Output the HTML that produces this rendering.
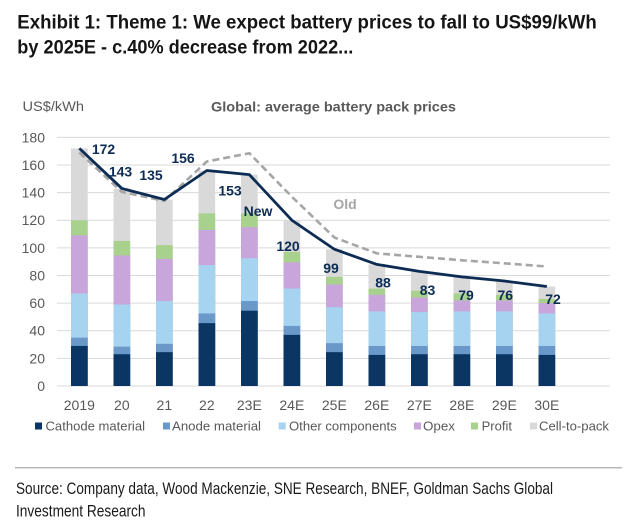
<!DOCTYPE html>
<html>
<head>
<meta charset="utf-8">
<style>
html,body{margin:0;padding:0;background:#fff;}
svg{display:block;}
text{font-family:"Liberation Sans",Arial,sans-serif;}
.narrow{font-family:"Liberation Sans Narrow","Liberation Sans",Arial,sans-serif;}
.ax{font-size:14px;fill:#595959;}
.val{font-size:14px;font-weight:bold;fill:#0d2c54;text-anchor:middle;}
.lg{font-size:13px;fill:#595959;}
</style>
</head>
<body>
<svg width="640" height="528" viewBox="0 0 640 528" xmlns="http://www.w3.org/2000/svg">
<rect x="0" y="0" width="640" height="528" fill="#fff"/>

<!-- Title -->
<text class="narrow" x="17.3" y="28.5" font-size="19" font-weight="bold" fill="#151515" textLength="579.4" lengthAdjust="spacingAndGlyphs">Exhibit 1: Theme 1: We expect battery prices to fall to US$99/kWh</text>
<text class="narrow" x="17.3" y="53.3" font-size="19" font-weight="bold" fill="#151515" textLength="336" lengthAdjust="spacingAndGlyphs">by 2025E - c.40% decrease from 2022...</text>

<text x="22.5" y="111" font-size="14" fill="#595959" textLength="61.5" lengthAdjust="spacingAndGlyphs">US$/kWh</text>
<text x="211" y="111.5" font-size="13.5" font-weight="bold" fill="#595959" textLength="245" lengthAdjust="spacingAndGlyphs">Global: average battery pack prices</text>

<!-- Gridlines -->
<g stroke="#d9d9d9" stroke-width="1">
<line x1="57" x2="610" y1="137.33" y2="137.33"/>
<line x1="57" x2="610" y1="164.96" y2="164.96"/>
<line x1="57" x2="610" y1="192.59" y2="192.59"/>
<line x1="57" x2="610" y1="220.22" y2="220.22"/>
<line x1="57" x2="610" y1="247.85" y2="247.85"/>
<line x1="57" x2="610" y1="275.48" y2="275.48"/>
<line x1="57" x2="610" y1="303.11" y2="303.11"/>
<line x1="57" x2="610" y1="330.74" y2="330.74"/>
<line x1="57" x2="610" y1="358.37" y2="358.37"/>
<line x1="57" x2="610" y1="386" y2="386"/>
</g>

<!-- Y axis labels -->
<g class="ax" text-anchor="end">
<text x="45" y="142.3">180</text>
<text x="45" y="170">160</text>
<text x="45" y="197.6">140</text>
<text x="45" y="225.2">120</text>
<text x="45" y="252.9">100</text>
<text x="45" y="280.5">80</text>
<text x="45" y="308.1">60</text>
<text x="45" y="335.7">40</text>
<text x="45" y="363.4">20</text>
<text x="45" y="391">0</text>
</g>

<!-- Bars: drawn back to front (cumulative tops to baseline 386) -->
<!-- Cell-to-pack -->
<g fill="#d9d9d9">
<rect x="71" y="148.38" width="16.7" height="237.62"/>
<rect x="113.5" y="188.45" width="16.7" height="197.55"/>
<rect x="156" y="199.5" width="16.7" height="186.5"/>
<rect x="198.5" y="170.49" width="16.7" height="215.51"/>
<rect x="241" y="174.63" width="16.7" height="211.37"/>
<rect x="283.5" y="220.22" width="16.7" height="165.78"/>
<rect x="326" y="249.23" width="16.7" height="136.77"/>
<rect x="368.5" y="264.43" width="16.7" height="121.57"/>
<rect x="411" y="271.34" width="16.7" height="114.66"/>
<rect x="453.5" y="276.86" width="16.7" height="109.14"/>
<rect x="496" y="281.01" width="16.7" height="104.99"/>
<rect x="538.5" y="286.53" width="16.7" height="99.47"/>
</g>
<!-- Profit -->
<g fill="#a9d18e">
<rect x="71" y="220.22" width="16.7" height="165.78"/>
<rect x="113.5" y="240.94" width="16.7" height="145.06"/>
<rect x="156" y="245.09" width="16.7" height="140.91"/>
<rect x="198.5" y="213.31" width="16.7" height="172.69"/>
<rect x="241" y="213.31" width="16.7" height="172.69"/>
<rect x="283.5" y="251.99" width="16.7" height="134.01"/>
<rect x="326" y="276.86" width="16.7" height="109.14"/>
<rect x="368.5" y="288.6" width="16.7" height="97.4"/>
<rect x="411" y="290.68" width="16.7" height="95.32"/>
<rect x="453.5" y="293.44" width="16.7" height="92.56"/>
<rect x="496" y="294.82" width="16.7" height="91.18"/>
<rect x="538.5" y="298.97" width="16.7" height="87.03"/>
</g>
<!-- Opex -->
<g fill="#c8a6dc">
<rect x="71" y="235.42" width="16.7" height="150.58"/>
<rect x="113.5" y="255.45" width="16.7" height="130.55"/>
<rect x="156" y="258.9" width="16.7" height="127.1"/>
<rect x="198.5" y="229.89" width="16.7" height="156.11"/>
<rect x="241" y="227.13" width="16.7" height="158.87"/>
<rect x="283.5" y="262.36" width="16.7" height="123.64"/>
<rect x="326" y="284.46" width="16.7" height="101.54"/>
<rect x="368.5" y="294.82" width="16.7" height="91.18"/>
<rect x="411" y="297.58" width="16.7" height="88.42"/>
<rect x="453.5" y="300.35" width="16.7" height="85.65"/>
<rect x="496" y="300.35" width="16.7" height="85.65"/>
<rect x="538.5" y="303.11" width="16.7" height="82.89"/>
</g>
<!-- Other components -->
<g fill="#a6d3ef">
<rect x="71" y="293.44" width="16.7" height="92.56"/>
<rect x="113.5" y="304.49" width="16.7" height="81.51"/>
<rect x="156" y="301.04" width="16.7" height="84.96"/>
<rect x="198.5" y="265.12" width="16.7" height="120.88"/>
<rect x="241" y="258.21" width="16.7" height="127.79"/>
<rect x="283.5" y="288.6" width="16.7" height="97.4"/>
<rect x="326" y="307.25" width="16.7" height="78.75"/>
<rect x="368.5" y="311.4" width="16.7" height="74.6"/>
<rect x="411" y="312.09" width="16.7" height="73.91"/>
<rect x="453.5" y="311.4" width="16.7" height="74.6"/>
<rect x="496" y="311.4" width="16.7" height="74.6"/>
<rect x="538.5" y="313.47" width="16.7" height="72.53"/>
</g>
<!-- Anode -->
<g fill="#6a98c8">
<rect x="71" y="337.65" width="16.7" height="48.35"/>
<rect x="113.5" y="346.63" width="16.7" height="39.37"/>
<rect x="156" y="343.86" width="16.7" height="42.14"/>
<rect x="198.5" y="313.47" width="16.7" height="72.53"/>
<rect x="241" y="301.04" width="16.7" height="84.96"/>
<rect x="283.5" y="325.9" width="16.7" height="60.1"/>
<rect x="326" y="343.17" width="16.7" height="42.83"/>
<rect x="368.5" y="345.94" width="16.7" height="40.06"/>
<rect x="411" y="345.94" width="16.7" height="40.06"/>
<rect x="453.5" y="345.94" width="16.7" height="40.06"/>
<rect x="496" y="345.94" width="16.7" height="40.06"/>
<rect x="538.5" y="345.94" width="16.7" height="40.06"/>
</g>
<!-- Cathode -->
<g fill="#0b3563">
<rect x="71" y="345.94" width="16.7" height="40.06"/>
<rect x="113.5" y="354.23" width="16.7" height="31.77"/>
<rect x="156" y="352.15" width="16.7" height="33.85"/>
<rect x="198.5" y="323.14" width="16.7" height="62.86"/>
<rect x="241" y="310.71" width="16.7" height="75.29"/>
<rect x="283.5" y="334.88" width="16.7" height="51.12"/>
<rect x="326" y="352.15" width="16.7" height="33.85"/>
<rect x="368.5" y="354.92" width="16.7" height="31.08"/>
<rect x="411" y="354.23" width="16.7" height="31.77"/>
<rect x="453.5" y="354.23" width="16.7" height="31.77"/>
<rect x="496" y="354.23" width="16.7" height="31.77"/>
<rect x="538.5" y="354.92" width="16.7" height="31.08"/>
</g>

<!-- Old (dashed) line -->
<polyline fill="none" stroke="#a6a6a6" stroke-width="2.6" stroke-dasharray="7 4" stroke-linejoin="round"
 points="79.35,152.53 121.85,191.9 164.35,200.88 206.85,161.51 249.35,153.22 291.85,196.73 334.35,237.49 376.85,253.38 419.35,256.83 461.85,260.28 504.35,263.32 546.85,266.5"/>

<!-- New line -->
<polyline fill="none" stroke="#0d2c54" stroke-width="2.8" stroke-linejoin="round"
 points="79.35,148.38 121.85,188.45 164.35,199.5 206.85,170.49 249.35,174.63 291.85,220.22 334.35,249.23 376.85,264.43 419.35,271.34 461.85,276.86 504.35,281.01 546.85,286.53"/>

<!-- Value labels -->
<text class="val" x="103.5" y="154">172</text>
<text class="val" x="120.5" y="176.7">143</text>
<text class="val" x="151" y="180">135</text>
<text class="val" x="183" y="163">156</text>
<text class="val" x="230" y="195.7">153</text>
<text class="val" x="258" y="216">New</text>
<text class="val" x="288" y="251">120</text>
<text class="val" x="331" y="273">99</text>
<text class="val" x="383" y="287.7">88</text>
<text class="val" x="427.5" y="295">83</text>
<text class="val" x="466" y="300">79</text>
<text class="val" x="505.3" y="300">76</text>
<text class="val" x="553" y="304">72</text>
<text x="345" y="209" font-size="14" font-weight="bold" fill="#a6a6a6" text-anchor="middle">Old</text>

<!-- X axis labels -->
<g class="ax" text-anchor="middle">
<text x="79.35" y="410">2019</text>
<text x="121.85" y="410">20</text>
<text x="164.35" y="410">21</text>
<text x="206.85" y="410">22</text>
<text x="249.35" y="410">23E</text>
<text x="291.85" y="410">24E</text>
<text x="334.35" y="410">25E</text>
<text x="376.85" y="410">26E</text>
<text x="419.35" y="410">27E</text>
<text x="461.85" y="410">28E</text>
<text x="504.35" y="410">29E</text>
<text x="546.85" y="410">30E</text>
</g>

<!-- Legend -->
<rect x="35" y="422.5" width="7" height="7" fill="#0b3563"/>
<text class="lg" x="45.5" y="430.7" textLength="99.5" lengthAdjust="spacingAndGlyphs">Cathode material</text>
<rect x="163" y="422.5" width="7" height="7" fill="#6a98c8"/>
<text class="lg" x="172" y="430.7" textLength="89" lengthAdjust="spacingAndGlyphs">Anode material</text>
<rect x="278.7" y="422.5" width="7" height="7" fill="#a6d3ef"/>
<text class="lg" x="289" y="430.7" textLength="107.7" lengthAdjust="spacingAndGlyphs">Other components</text>
<rect x="414" y="422.5" width="7" height="7" fill="#c8a6dc"/>
<text class="lg" x="423" y="430.7" textLength="32" lengthAdjust="spacingAndGlyphs">Opex</text>
<rect x="471" y="422.5" width="7" height="7" fill="#a9d18e"/>
<text class="lg" x="481.6" y="430.7" textLength="30.4" lengthAdjust="spacingAndGlyphs">Profit</text>
<rect x="530" y="422.5" width="7" height="7" fill="#d9d9d9"/>
<text class="lg" x="539" y="430.7" textLength="70" lengthAdjust="spacingAndGlyphs">Cell-to-pack</text>

<!-- Separator -->
<line x1="15" x2="622" y1="467.7" y2="467.7" stroke="#b3b3b3" stroke-width="1.3"/>

<!-- Source -->
<text class="narrow" x="16" y="494" font-size="17" fill="#1a1a1a" textLength="537" lengthAdjust="spacingAndGlyphs">Source: Company data, Wood Mackenzie, SNE Research, BNEF, Goldman Sachs Global</text>
<text class="narrow" x="16" y="516.7" font-size="17" fill="#1a1a1a" textLength="129.5" lengthAdjust="spacingAndGlyphs">Investment Research</text>
</svg>
</body>
</html>
